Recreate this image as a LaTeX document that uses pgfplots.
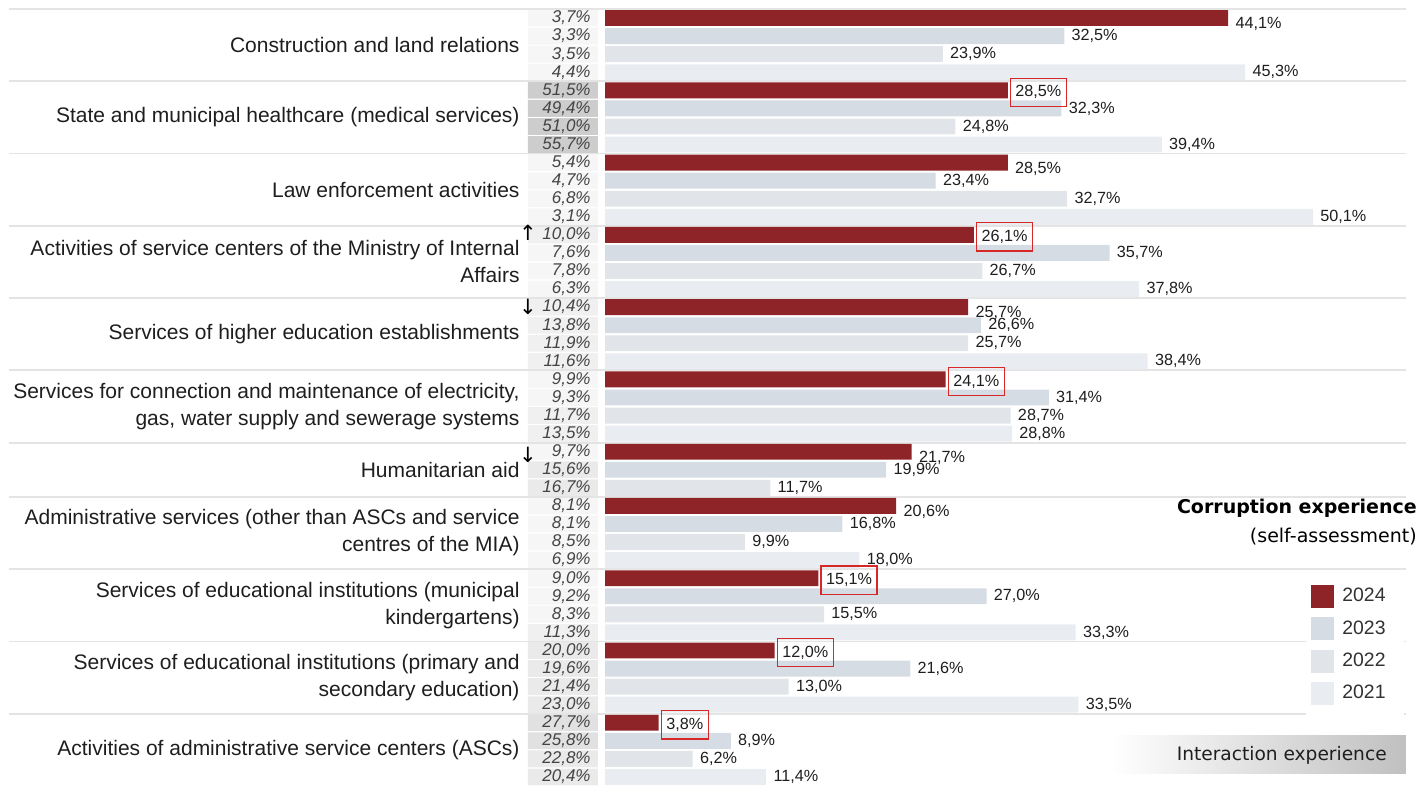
\documentclass[border=0pt]{standalone}
\usepackage{pgfplots}
\pgfplotsset{compat=1.18}
\usepackage{fontspec}
\setmainfont{Liberation Sans}
\newfontfamily\dejavu{DejaVu Sans}
\definecolor{c2024}{RGB}{142,35,40}
\definecolor{c2023}{RGB}{214,220,227}
\definecolor{c2022}{RGB}{225,229,234}
\definecolor{c2021}{RGB}{233,236,240}
\definecolor{sepgray}{RGB}{228,228,228}
\definecolor{txt}{RGB}{30,30,30}
\definecolor{labgray}{RGB}{68,68,68}
\definecolor{boxred}{RGB}{215,40,40}
\definecolor{cellA}{RGB}{246,246,246}
\definecolor{cellB}{RGB}{240,240,240}
\definecolor{cellC}{RGB}{234,234,234}
\definecolor{cellD}{RGB}{225,225,225}
\definecolor{cellE}{RGB}{205,205,205}
\pgfplotsset{
  valnodes/.style={nodes near coords={\pgfmathprintnumber[fixed,fixed zerofill,precision=1,use comma,assume math mode=true]{\pgfplotspointmeta}\%},
    point meta=x,
    every node near coord/.append style={anchor=west, font=\fontsize{8.1}{9}\selectfont, text=txt, inner xsep=2.5pt, xshift=1pt}},
  hbar/.style={xbar, bar width=0.88, bar shift=0pt, draw=none},
  cellbar/.style={xbar, bar width=0.93, bar shift=0pt, draw=none, forget plot, fill=#1},
}
\begin{document}
\begin{tikzpicture}
\path[use as bounding box] (0,0) rectangle (709.5pt,393pt);
\begin{axis}[
  at={(302.5pt,0pt)}, anchor=south west,
  scale only axis, width=407pt, height=388.5pt,
  xmin=0, xmax=57.6, ymin=0, ymax=43, y dir=reverse,
  axis lines=none, clip=false,
  legend style={at={(0.8624,0.2680)}, anchor=north west, draw=none, fill=none,
    inner xsep=2pt, inner ysep=3pt, row sep=3.9pt,
    font=\fontsize{9.7}{11}\selectfont, text={rgb,255:red,51;green,51;blue,51},
    cells={anchor=west}, nodes={inner xsep=4pt}},
  legend image code/.code={\draw[#1,draw=none] (0pt,-5.75pt) rectangle (11.5pt,5.75pt);},
]
% interaction experience cells (shaded by value)
\addplot[cellbar=cellA] coordinates {(-5.45,0.5) (-5.45,1.5) (-5.45,2.5) (-5.45,3.5) (-5.45,8.5) (-5.45,9.5) (-5.45,10.5) (-5.45,11.5) (-5.45,13.5) (-5.45,14.5) (-5.45,15.5) (-5.45,20.5) (-5.45,21.5) (-5.45,24.5) (-5.45,27.5) (-5.45,28.5) (-5.45,29.5) (-5.45,30.5) (-5.45,31.5) (-5.45,32.5) (-5.45,33.5)};
\addplot[cellbar=cellB] coordinates {(-5.45,12.5) (-5.45,16.5) (-5.45,17.5) (-5.45,18.5) (-5.45,19.5) (-5.45,22.5) (-5.45,23.5) (-5.45,34.5)};
\addplot[cellbar=cellC] coordinates {(-5.45,25.5) (-5.45,26.5) (-5.45,35.5) (-5.45,36.5) (-5.45,37.5) (-5.45,38.5) (-5.45,41.5) (-5.45,42.5)};
\addplot[cellbar=cellD] coordinates {(-5.45,39.5) (-5.45,40.5)};
\addplot[cellbar=cellE] coordinates {(-5.45,4.5) (-5.45,5.5) (-5.45,6.5) (-5.45,7.5)};
\fill[white] (axis cs:-0.5,-0.2) rectangle (axis cs:-0.005,43.2);
% separators
\pgfplotsinvokeforeach{0,4,8,12,16,20,24,27,31,35,39}{
  \draw[sepgray, line width=0.9pt] (axis cs:-42.18,#1) -- (axis cs:56.67,#1);
}
% legend background
\fill[white] (axis cs:49.6,31.6) rectangle (axis cs:56.55,39.05);
% interaction experience values
\addplot[draw=none, mark=none, point meta=explicit,
  nodes near coords={\pgfmathprintnumber[fixed,fixed zerofill,precision=1,use comma,assume math mode=true]{\pgfplotspointmeta}\%},
  every node near coord/.append style={anchor=east, font=\fontsize{8.5}{9}\selectfont\itshape, text=labgray, inner sep=0pt},
  forget plot]
coordinates {
(-0.99,0.5)[3.7] (-0.99,1.5)[3.3] (-0.99,2.5)[3.5] (-0.99,3.5)[4.4]
(-0.99,4.5)[51.5] (-0.99,5.5)[49.4] (-0.99,6.5)[51.0] (-0.99,7.5)[55.7]
(-0.99,8.5)[5.4] (-0.99,9.5)[4.7] (-0.99,10.5)[6.8] (-0.99,11.5)[3.1]
(-0.99,12.5)[10.0] (-0.99,13.5)[7.6] (-0.99,14.5)[7.8] (-0.99,15.5)[6.3]
(-0.99,16.5)[10.4] (-0.99,17.5)[13.8] (-0.99,18.5)[11.9] (-0.99,19.5)[11.6]
(-0.99,20.5)[9.9] (-0.99,21.5)[9.3] (-0.99,22.5)[11.7] (-0.99,23.5)[13.5]
(-0.99,24.5)[9.7] (-0.99,25.5)[15.6] (-0.99,26.5)[16.7]
(-0.99,27.5)[8.1] (-0.99,28.5)[8.1] (-0.99,29.5)[8.5] (-0.99,30.5)[6.9]
(-0.99,31.5)[9.0] (-0.99,32.5)[9.2] (-0.99,33.5)[8.3] (-0.99,34.5)[11.3]
(-0.99,35.5)[20.0] (-0.99,36.5)[19.6] (-0.99,37.5)[21.4] (-0.99,38.5)[23.0]
(-0.99,39.5)[27.7] (-0.99,40.5)[25.8] (-0.99,41.5)[22.8] (-0.99,42.5)[20.4]
};
% 2024
\addplot[hbar, fill=c2024, valnodes, every node near coord/.append style={yshift=-3pt}]
coordinates {(44.1,0.5) (28.5,8.5) (25.7,16.5) (21.7,24.5) (20.6,27.5)};
\addlegendentry{2024}
\addplot[hbar, fill=c2024, valnodes, forget plot,
  every node near coord/.append style={draw=boxred, line width=0.7pt, inner ysep=3.7pt, yshift=-1pt}]
coordinates {(28.5,4.5) (26.1,12.5) (24.1,20.5) (15.1,31.5) (12.0,35.5) (3.8,39.5)};
% 2023
\addplot[hbar, fill=c2023, valnodes]
coordinates {(32.5,1.5) (32.3,5.5) (23.4,9.5) (35.7,13.5) (26.6,17.5) (31.4,21.5) (19.9,25.5) (16.8,28.5) (27.0,32.5) (21.6,36.5) (8.9,40.5)};
\addlegendentry{2023}
% 2022
\addplot[hbar, fill=c2022, valnodes]
coordinates {(23.9,2.5) (24.8,6.5) (32.7,10.5) (26.7,14.5) (25.7,18.5) (28.7,22.5) (11.7,26.5) (9.9,29.5) (15.5,33.5) (13.0,37.5) (6.2,41.5)};
\addlegendentry{2022}
% 2021
\addplot[hbar, fill=c2021, valnodes]
coordinates {(45.3,3.5) (39.4,7.5) (50.1,11.5) (37.8,15.5) (38.4,19.5) (28.8,23.5) (18.0,30.5) (33.3,34.5) (33.5,38.5) (11.4,42.5)};
\addlegendentry{2021}
% category labels
\begin{scope}[every node/.style={anchor=east, align=right, inner sep=0pt, text=txt, font=\fontsize{10.5}{13.5}\selectfont}]
\node at (axis cs:-6.02,2) {Construction and land relations};
\node at (axis cs:-6.02,6) {State and municipal healthcare (medical services)};
\node at (axis cs:-6.02,10) {Law enforcement activities};
\node at (axis cs:-6.02,14) {Activities of service centers of the Ministry of Internal\\Affairs};
\node at (axis cs:-6.02,18) {Services of higher education establishments};
\node at (axis cs:-6.02,22) {Services for connection and maintenance of electricity,\\gas, water supply and sewerage systems};
\node at (axis cs:-6.02,25.5) {Humanitarian aid};
\node at (axis cs:-6.02,29) {Administrative services (other than ASCs and service\\centres of the MIA)};
\node at (axis cs:-6.02,33) {Services of educational institutions (municipal\\kindergartens)};
\node at (axis cs:-6.02,37) {Services of educational institutions (primary and\\secondary education)};
\node at (axis cs:-6.02,41) {Activities of administrative service centers (ASCs)};
\end{scope}
% arrows
\node[font=\dejavu\fontsize{10.5}{11}\selectfont, text=black] at (axis cs:-5.45,12.4) {↑};
\node[font=\dejavu\fontsize{10.5}{11}\selectfont, text=black] at (axis cs:-5.45,16.5) {↓};
\node[font=\dejavu\fontsize{10.5}{11}\selectfont, text=black] at (axis cs:-5.45,24.7) {↓};
% titles
\node[anchor=east, inner sep=0pt, font=\dejavu\bfseries\fontsize{9.5}{11}\selectfont, text=black] at (axis cs:57.47,27.62) {Corruption experience};
\node[anchor=east, inner sep=0pt, font=\dejavu\fontsize{9.5}{11}\selectfont, text=black] at (axis cs:57.47,29.2) {(self-assessment)};
% interaction experience box
\shade[left color=white, right color={rgb,255:red,192;green,192;blue,192}] (axis cs:35.74,40.23) rectangle (axis cs:56.67,42.33);
\node[anchor=east, inner sep=0pt, font=\dejavu\fontsize{9.3}{11}\selectfont, text=txt] at (axis cs:55.34,41.28) {Interaction experience};
\end{axis}
\end{tikzpicture}
\end{document}
